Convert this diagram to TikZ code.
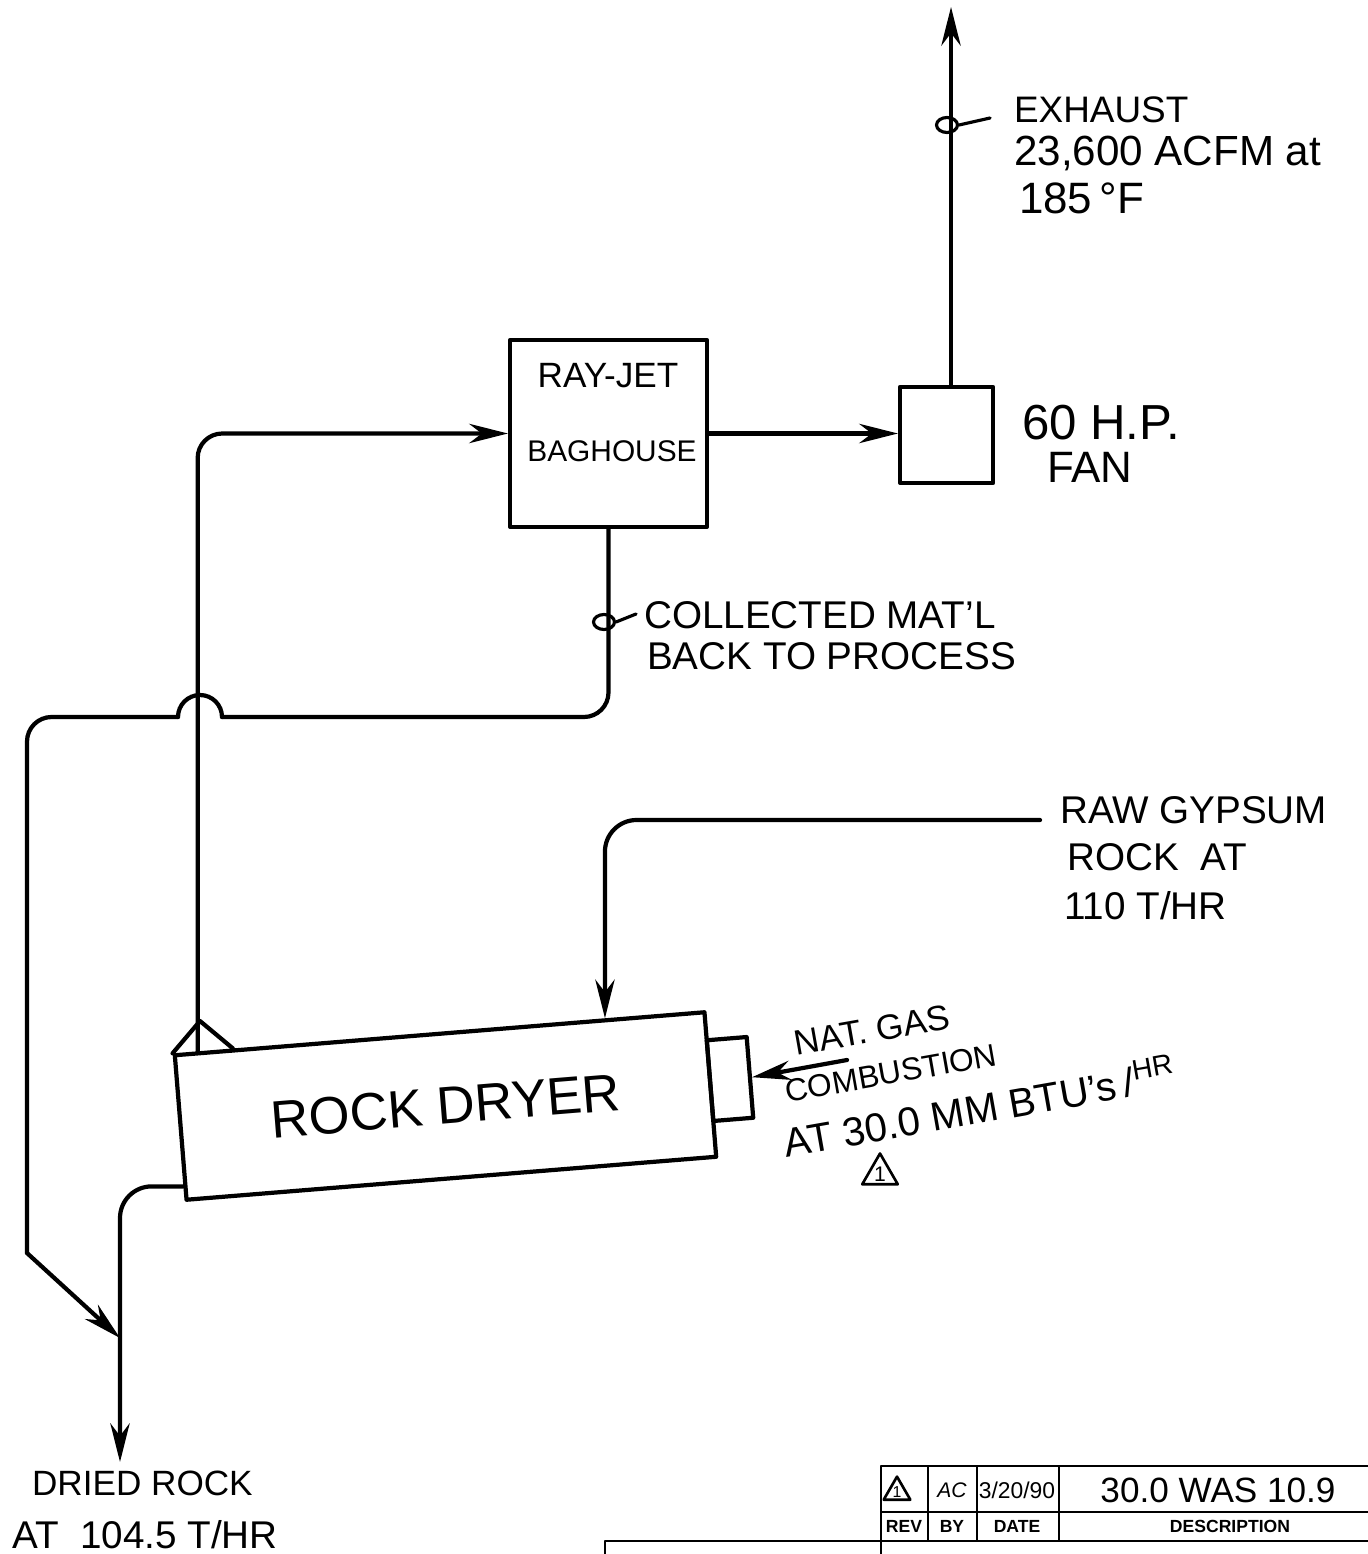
\documentclass[tikz,border=0pt]{standalone}
\usepackage{fontspec}
\setmainfont{Liberation Sans}
\usetikzlibrary{arrows.meta, calc, shapes.geometric}
\newcommand{\hw}[1]{\fontsize{#1}{#1}\selectfont}

\begin{document}
\begin{tikzpicture}[x=0.02cm, y=-0.02cm, >={Stealth[length=22pt, width=11pt]},
    line width=2.4pt, line cap=round, line join=round,
    vessel/.style={draw, inner sep=0pt},
    lbl/.style={anchor=west, inner sep=0pt},
    looptag/.style={draw, ellipse, inner sep=0pt, minimum width=0.42cm, minimum height=0.3cm, line width=1.8pt},
    revmark/.style={draw, regular polygon, regular polygon sides=3, inner sep=0pt, line width=1.5pt},
    hdr/.style={inner sep=0pt, font=\hw{10}\bfseries}]
  \useasboundingbox (0,0) rectangle (1368,1554);
  % Baghouse
  \node[vessel, minimum width=3.94cm, minimum height=3.74cm] (baghouse) at (608.5,433.5) {};
  \node[font=\hw{20}] (bagtop) at (608,376) {RAY-JET};
  \node[font=\hw{17}] (bagbot) at (612,451) {BAGHOUSE};
  % Fan
  \node[vessel, minimum width=1.86cm, minimum height=1.92cm] (fan) at (946.5,435) {};
  \node[lbl, font=\hw{28}] (fanhp) at (1020,423) {60 H.P.};
  \node[lbl, font=\hw{25}] (fanname) at (1045,467) {FAN};
  \draw[->] (baghouse.east) -- (baghouse.east -| fan.west);
  % Exhaust stack
  \coordinate (stack) at (951,7);
  \draw[->] (stack |- fan.north) -- (stack);
  \node[looptag] (exhtag) at (947,125) {};
  \draw[line width=1.8pt] (exhtag.east) -- ++(31,-7);
  \node[lbl, font=\hw{21}] (exh1) at (1012,110) {EXHAUST};
  \node[lbl, font=\hw{24}] (exh2) at (1012,153) {23,600 ACFM at};
  \node[lbl, font=\hw{25}] (exh3) at (1017,198) {185\,°F};
  % Collected material back to process
  \coordinate (hopR) at (222,717);
  \coordinate (hopL) at (178,717);
  \coordinate (recL) at (27,717);
  \coordinate (recK) at (27,1253);
  \coordinate (merge) at (120,1338);
  \draw[rounded corners=14pt] (baghouse.south) |- (hopR);
  \draw (hopR) arc[start angle=0, end angle=-180, radius=22];
  \draw[rounded corners=14pt] (hopL) -- (recL) -- (recK);
  \draw[->] (recK) -- (merge);
  \node[looptag] (coltag) at (604,622) {};
  \draw[line width=1.8pt] (coltag.east) -- ++(20,-8);
  \node[lbl, font=\hw{22}] (col1) at (642,615) {COLLECTED MAT'L};
  \node[lbl, font=\hw{22}] (col2) at (645,656) {BACK TO PROCESS};
  % Rock dryer
  \node[vessel, minimum width=10.63cm, minimum height=2.9cm, rotate=4.64, font=\hw{30}] (dryer) at (445.5,1106) {ROCK DRYER};
  \coordinate (hood) at (200,1021);
  \coordinate (dryergas) at ($(dryer.north west)!0.047!(dryer.north east)$);
  \draw (dryer.north west) -- (hood) -- ($(dryer.north west)!0.113!(dryer.north east)$);
  \draw[->, rounded corners=14pt] (dryergas) |- (baghouse.west);
  % Burner and natural gas
  \node[vessel, minimum width=0.8cm, minimum height=1.62cm, rotate=4.64] (burner) at (730,1079) {};
  \coordinate (gasin) at (847,1060);
  \draw[->] (gasin) -- (burner.east);
  \node[font=\hw{20}, rotate=10] (gas1) at (872,1030) {NAT. GAS};
  \node[font=\hw{18}, rotate=10] (gas2) at (891,1073) {COMBUSTION};
  \node[font=\hw{23}, rotate=10] (gas3) at (979,1106) {AT 30.0 MM BTU's\,/\textsuperscript{HR}};
  \node[revmark, minimum size=0.8cm, font=\hw{12}] (gasrev) at (880,1174) {1};
  % Raw gypsum feed
  \coordinate (feed) at (1040,820);
  \coordinate (dryerin) at ($(dryer.north west)!0.81!(dryer.north east)$);
  \draw[->, rounded corners=18pt] (feed) -| (dryerin);
  \node[lbl, font=\hw{22}] (raw1) at (1058,810) {RAW GYPSUM};
  \node[lbl, font=\hw{22}] (raw2) at (1065,857) {ROCK\ \ AT};
  \node[lbl, font=\hw{22}] (raw3) at (1062,906) {110 T/HR};
  % Dried rock out
  \coordinate (dryerout) at ($(dryer.north west)!0.895!(dryer.south west)$);
  \coordinate (product) at (120,1462);
  \draw[->, rounded corners=18pt] (dryerout) -| (product);
  \node[lbl, font=\hw{20}] (dried1) at (30,1483) {DRIED ROCK};
  \node[lbl, font=\hw{22}] (dried2) at (10,1535) {AT\ \ 104.5 T/HR};
  % Revision block
  \begin{scope}[line width=1.6pt, line cap=butt]
    \draw (881,1554) -- (881,1466) -- (1368,1466);
    \draw (881,1512) -- (1368,1512);
    \draw (605,1554) -- (605,1541) -- (1368,1541);
    \foreach \cx in {928,977,1059} \draw (\cx,1466) -- (\cx,1541);
  \end{scope}
  \node[revmark, minimum size=0.6cm, font=\hw{9}] (revno) at (897,1492) {1};
  \node[font=\itshape\hw{12}] (revby) at (952,1490) {AC};
  \node[font=\hw{13}] (revdate) at (1017,1490) {3/20/90};
  \node[font=\hw{20}] (revdesc) at (1218,1490) {30.0 WAS 10.9};
  \node[hdr] (hrev) at (904,1526) {REV};
  \node[hdr] (hby) at (952,1526) {BY};
  \node[hdr] (hdate) at (1017,1526) {DATE};
  \node[hdr] (hdesc) at (1230,1526) {DESCRIPTION};
\end{tikzpicture}
\end{document}
